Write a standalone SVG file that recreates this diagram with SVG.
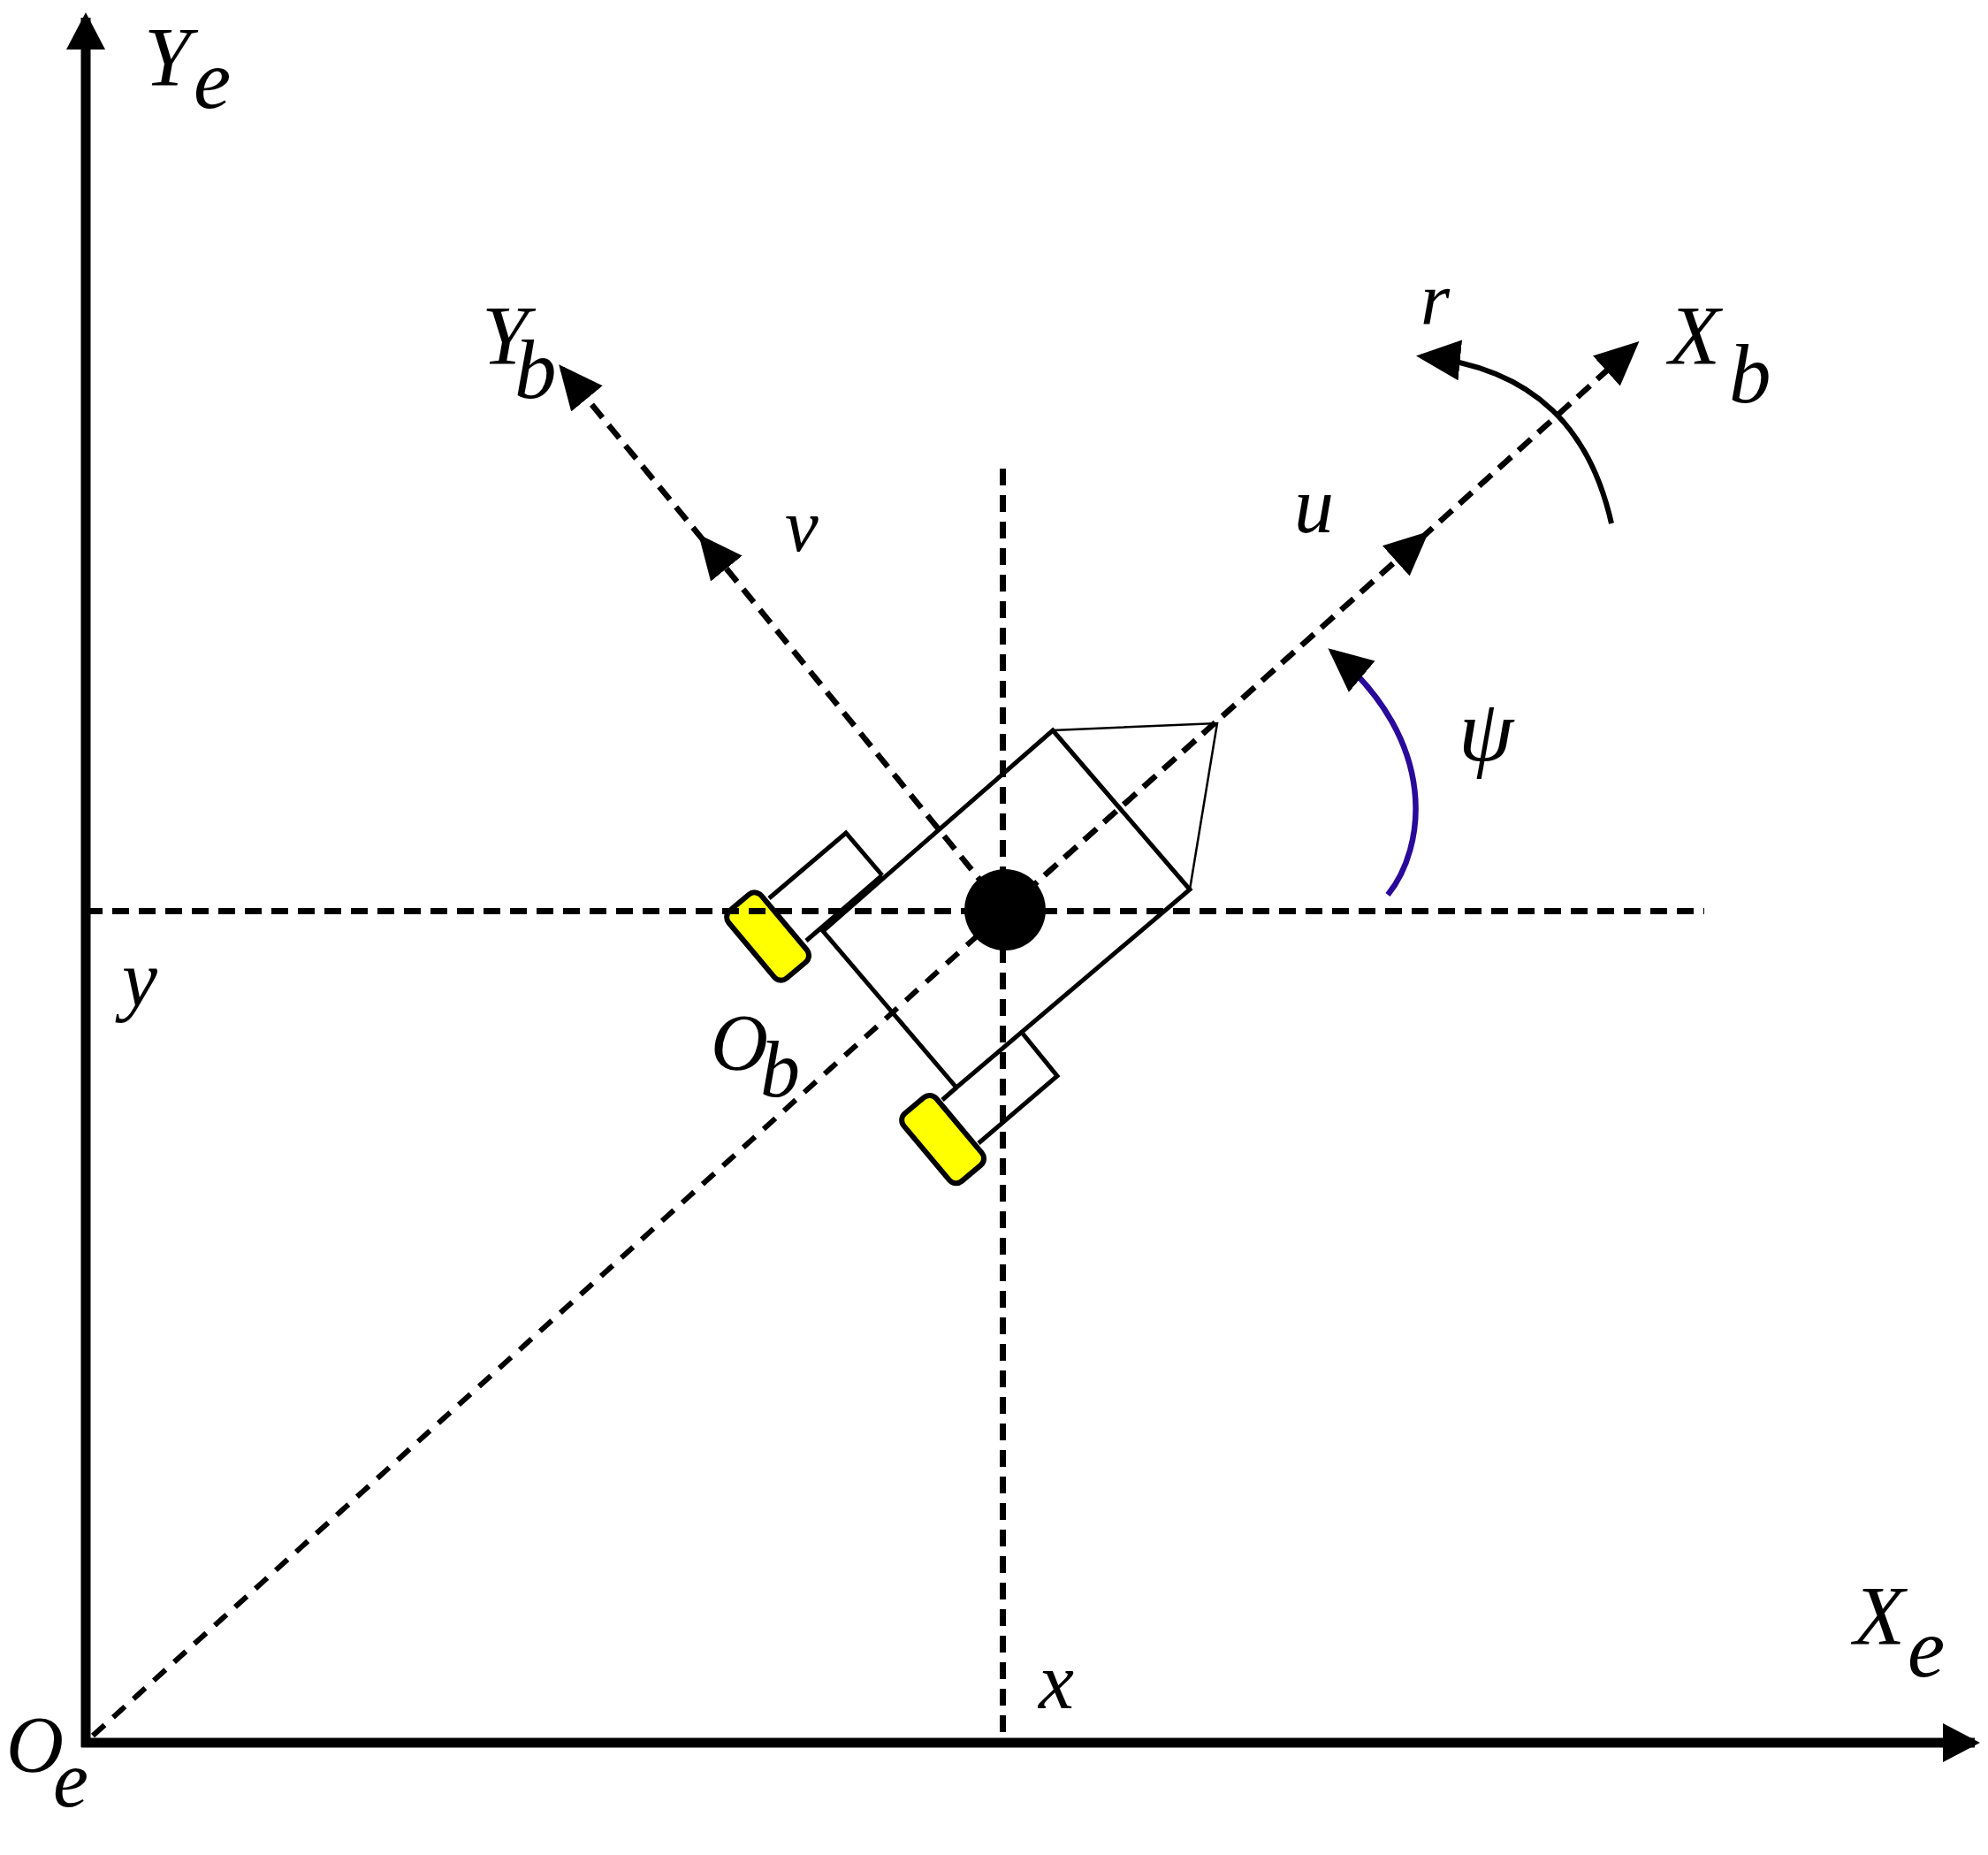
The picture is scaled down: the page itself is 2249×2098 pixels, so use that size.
<svg xmlns="http://www.w3.org/2000/svg" width="2249" height="2098" viewBox="0 0 2249 2098">
<style>
.axis{fill:none;stroke:#000;stroke-width:11}
.dash{fill:none;stroke:#000;stroke-width:7;stroke-dasharray:19 11}
.dash2{fill:none;stroke:#000;stroke-width:6.500;stroke-dasharray:19 11}
.thin{fill:none;stroke:#000;stroke-width:6;stroke-dasharray:18 13}
.body{fill:none;stroke:#000;stroke-width:5;stroke-linejoin:miter}
.nose{fill:none;stroke:#000;stroke-width:2.500}
.wheel{fill:#ff0;stroke:#000;stroke-width:6}
.big{font-size:100px}
.mid{font-size:95px}
.sub{font-size:90px}
.small{font-size:85px}
</style>
<defs>
<marker id="head" markerUnits="userSpaceOnUse" markerWidth="54" markerHeight="50" refX="44" refY="25" orient="auto"><path d="M0 2L50 25L0 48Z" fill="#000"/></marker>
<marker id="axisHead" markerUnits="userSpaceOnUse" markerWidth="44" markerHeight="46" refX="36" refY="23" orient="auto"><path d="M0 1L42 23L0 45Z" fill="#000"/></marker>
</defs>
<g id="vehicle">
<g id="wheel-upper"><rect class="wheel" x="-50" y="-24" width="100" height="48" rx="10" transform="translate(868.6 1059) rotate(50)"/></g>
<g id="wheel-lower"><rect class="wheel" x="-50" y="-24" width="100" height="48" rx="10" transform="translate(1066.6 1288.6) rotate(50)"/></g>
<g id="hub-upper"><path class="body" d="M870 1016L957 942L998 990"/><path class="body" d="M912 1064L998 990"/></g>
<g id="hub-lower"><path class="body" d="M1157 1169L1196 1217L1107 1293"/><path class="body" d="M1066 1244L1082 1230"/></g>
<g id="hull"><path class="body" d="M1191 826L1346 1006L1082 1230L931 1053Z"/><path class="nose" d="M1191 826L1377 818L1346 1006"/></g>
</g>
<g id="connectors">
<path class="axis" d="M97 1976V20" marker-end="url(#axisHead)"/>
<path class="axis" d="M92 1971H2234" marker-end="url(#axisHead)"/>
<path class="dash" d="M97 1030.500H1928"/>
<path class="dash" d="M1134.500 530V1970"/>
<path class="thin" d="M105 1963L1137 1030"/>
<path class="dash2" d="M1137 1030L1612 605L1850 390" marker-mid="url(#head)" marker-end="url(#head)"/>
<path class="dash2" d="M1137 1030L794 609L636 417" marker-mid="url(#head)" marker-end="url(#head)"/>
<path d="M1823 592C1800 490 1740 416 1608 403" fill="none" stroke="#000" stroke-width="6" marker-end="url(#head)"/>
<path d="M1570 1012C1612 960 1630 840 1507 737" fill="none" stroke="#2a0a9a" stroke-width="6.500" marker-end="url(#head)"/>
</g>
<g id="origin-body"><circle cx="1137" cy="1029" r="46" fill="#000"/></g>
<g id="labels">
<text id="label-Ye" class="mid" style="font-family:'Liberation Serif';font-style:italic" x="163 219" y="97 122">Ye</text>
<text id="label-Yb" class="mid" style="font-family:'Liberation Serif';font-style:italic" x="545 582" y="412 450">Yb</text>
<text id="label-Xb" class="mid" style="font-family:'Liberation Serif';font-style:italic" x="1888 1956" y="412 455">Xb</text>
<text id="label-Xe" class="mid" style="font-family:'Liberation Serif';font-style:italic" x="2097 2158" y="1860 1896">Xe</text>
<text id="label-Oe" class="sub" style="font-family:'Liberation Serif';font-style:italic" x="7 60" y="2004 2043">Oe</text>
<text id="label-Ob" class="sub" style="font-family:'Liberation Serif';font-style:italic" x="804 860" y="1210 1240">Ob</text>
<text id="label-r" class="small" xml:space="preserve" style="font-family:'Liberation Serif';font-style:italic" x="1607" y="367">r </text>
<text id="label-v" class="small" xml:space="preserve" style="font-family:'Liberation Serif';font-style:italic" x="888" y="623">v </text>
<text id="label-u" class="sub" xml:space="preserve" style="font-family:'Liberation Serif';font-style:italic" x="1464" y="602">u </text>
<text id="label-y" class="sub" xml:space="preserve" style="font-family:'Liberation Serif';font-style:italic" x="138" y="1138">y </text>
<text id="label-x" class="sub" xml:space="preserve" style="font-family:'Liberation Serif';font-style:italic" x="1175" y="1932">x </text>
<text id="label-psi" class="big" xml:space="preserve" style="font-family:'Liberation Serif';font-style:italic" x="1650" y="860">ψ </text>
</g>
</svg>
